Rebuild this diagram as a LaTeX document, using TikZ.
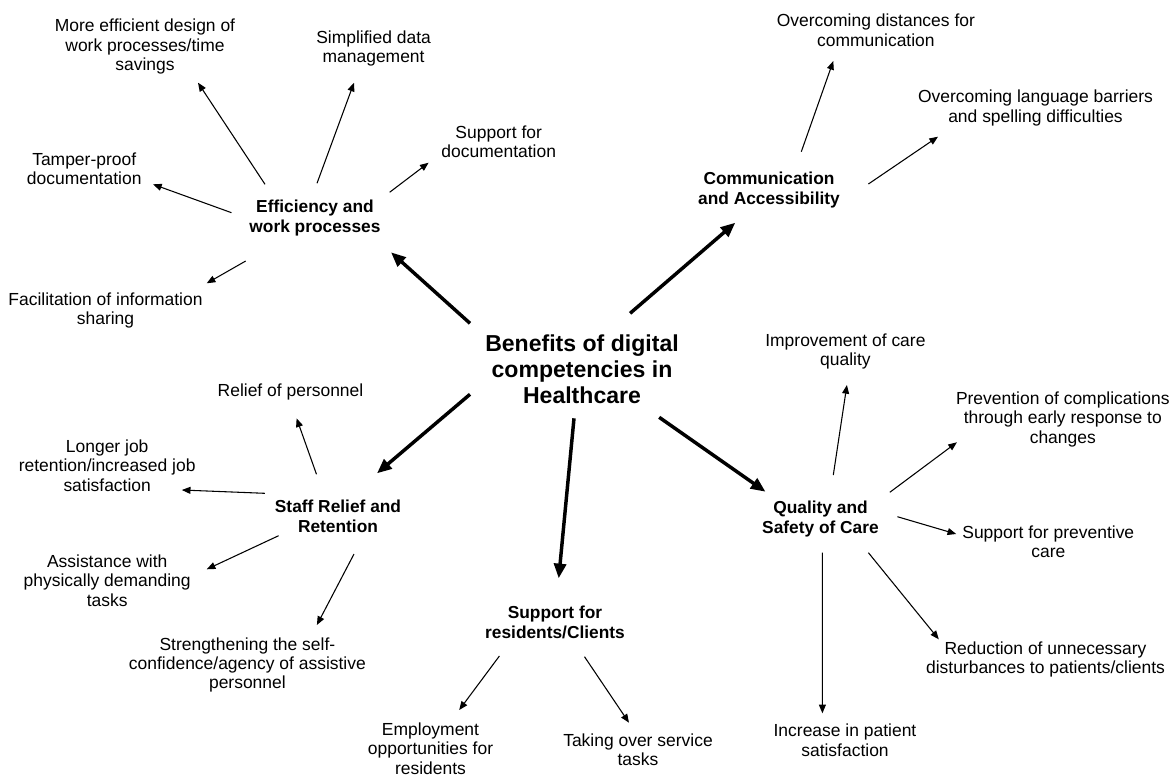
\documentclass[tikz,border=0pt]{standalone}
\usepackage{fontspec}
\setmainfont{Liberation Sans}
\usetikzlibrary{arrows.meta}

\begin{document}
\begin{tikzpicture}[x=0.75pt,y=-0.75pt,
  leaf/.style={align=center,inner sep=0pt,font=\fontsize{13.1}{14.6}\selectfont},
  hub/.style={align=center,inner sep=0pt,font=\fontsize{13}{15}\selectfont\bfseries},
  title/.style={align=center,inner sep=0pt,font=\fontsize{17.3}{19.6}\selectfont\bfseries},
  thinarrow/.style={draw=black,line width=0.8pt,-{Triangle[length=6.5pt,width=5.2pt]}},
  thickarrow/.style={draw=black,line width=2.6pt,-{Triangle[length=11pt,width=9pt]}}]

% canvas
\fill[white] (0,0) rectangle (1171,776);
\useasboundingbox (0,0) rectangle (1171,776);

% central topic
\node[title] (ben) at (582,369) {Benefits of digital\\competencies in\\Healthcare};

% main branches
\node[hub] (eff)   at (315,218)     {Efficiency and\\work processes};
\node[hub] (com)   at (769,190)     {Communication\\and Accessibility};
\node[hub] (staff) at (338,516.3)   {Staff Relief and\\Retention};
\node[hub] (sup)   at (555,622.8)   {Support for\\residents/Clients};
\node[hub] (qual)  at (820.5,519.5) {Quality and\\Safety of Care};

% efficiency and work processes
\node[leaf] (e1) at (145,46.7)    {More efficient design of\\work processes/time\\savings};
\node[leaf] (e2) at (373.6,48.7)  {Simplified data\\management};
\node[leaf] (e3) at (498.7,142)   {Support for\\documentation};
\node[leaf] (e4) at (84.2,168.7)  {Tamper-proof\\documentation};
\node[leaf] (e5) at (105.5,310.3) {Facilitation of information\\sharing};

% communication and accessibility
\node[leaf] (c1) at (875.9,30.3)   {Overcoming distances for\\communication};
\node[leaf] (c2) at (1035.5,107.8) {Overcoming language barriers\\and spelling difficulties};

% staff relief and retention
\node[leaf] (s1) at (290.5,392.3) {Relief of personnel};
\node[leaf] (s2) at (107.2,465.7) {Longer job\\retention/increased job\\satisfaction};
\node[leaf] (s3) at (107.2,580.7) {Assistance with\\physically demanding\\tasks};
\node[leaf] (s4) at (247.4,665)   {Strengthening the self-\\confidence/agency of assistive\\personnel};

% support for residents/clients
\node[leaf] (r1) at (430.5,748.6) {Employment\\opportunities for\\residents};
\node[leaf] (r2) at (638,749.7)   {Taking over service\\tasks};

% quality and safety of care
\node[leaf] (q1) at (845.4,351.7)  {Improvement of care\\quality};
\node[leaf] (q2) at (1062.8,419.3) {Prevention of complications\\through early response to\\changes};
\node[leaf] (q3) at (1048.3,542)   {Support for preventive\\care};
\node[leaf] (q4) at (1045.5,659.7) {Reduction of unnecessary\\disturbances to patients/clients};
\node[leaf] (q5) at (845,740.4)    {Increase in patient\\satisfaction};

% thick arrows from the centre
\draw[thickarrow] ([shift={(-112,-45.7)}]ben.center) -- ([shift={(76,34.3)}]eff.center);
\draw[thickarrow] ([shift={(48.1,-55.7)}]ben.center) -- ([shift={(-33.7,32.7)}]com.center);
\draw[thickarrow] ([shift={(-112,25.3)}]ben.center)  -- ([shift={(39,-43)}]staff.center);
\draw[thickarrow] ([shift={(-8,49.3)}]ben.center)    -- ([shift={(3.7,-44.5)}]sup.center);
\draw[thickarrow] ([shift={(77.2,48.3)}]ben.center)  -- ([shift={(-55,-27.8)}]qual.center);

% efficiency branch
\draw[thinarrow] ([shift={(-50,-33.7)}]eff.center)  -- ([shift={(53,36)}]e1.center);
\draw[thinarrow] ([shift={(2,-34.7)}]eff.center)    -- ([shift={(-19.6,34)}]e2.center);
\draw[thinarrow] ([shift={(74.6,-25.7)}]eff.center) -- ([shift={(-70.1,20.7)}]e3.center);
\draw[thinarrow] ([shift={(-83.5,-5.3)}]eff.center) -- ([shift={(68.8,15.6)}]e4.center);
\draw[thinarrow] ([shift={(-69.3,43)}]eff.center)   -- ([shift={(101.2,-27)}]e5.center);

% communication branch
\draw[thinarrow] ([shift={(32.3,-38.3)}]com.center) -- ([shift={(-42.6,30.7)}]c1.center);
\draw[thinarrow] ([shift={(99.4,-6)}]com.center)    -- ([shift={(-97.5,28.9)}]c2.center);

% staff branch
\draw[thinarrow] ([shift={(-21.5,-42)}]staff.center) -- ([shift={(6.1,26)}]s1.center);
\draw[thinarrow] ([shift={(-73.2,-23)}]staff.center) -- ([shift={(74.6,24.3)}]s2.center);
\draw[thinarrow] ([shift={(-59.4,19.4)}]staff.center) -- ([shift={(99.5,-11.4)}]s3.center);
\draw[thinarrow] ([shift={(16,37.7)}]staff.center)   -- ([shift={(69.5,-40)}]s4.center);

% residents branch
\draw[thinarrow] ([shift={(-55.6,33.2)}]sup.center) -- ([shift={(28.7,-38.6)}]r1.center);
\draw[thinarrow] ([shift={(29.5,33.9)}]sup.center)  -- ([shift={(-9,-27)}]r2.center);

% quality branch
\draw[thinarrow] ([shift={(12.8,-44.5)}]qual.center) -- ([shift={(1.5,33.3)}]q1.center);
\draw[thinarrow] ([shift={(69.3,-27.2)}]qual.center) -- ([shift={(-105.9,23)}]q2.center);
\draw[thinarrow] ([shift={(76.9,-2.8)}]qual.center)  -- ([shift={(-92.1,-8)}]q3.center);
\draw[thinarrow] ([shift={(47.9,33.2)}]qual.center)  -- ([shift={(-106.7,-20.4)}]q4.center);
\draw[thinarrow] ([shift={(1.9,33.2)}]qual.center)   -- ([shift={(-22.6,-27.1)}]q5.center);

\end{tikzpicture}
\end{document}
